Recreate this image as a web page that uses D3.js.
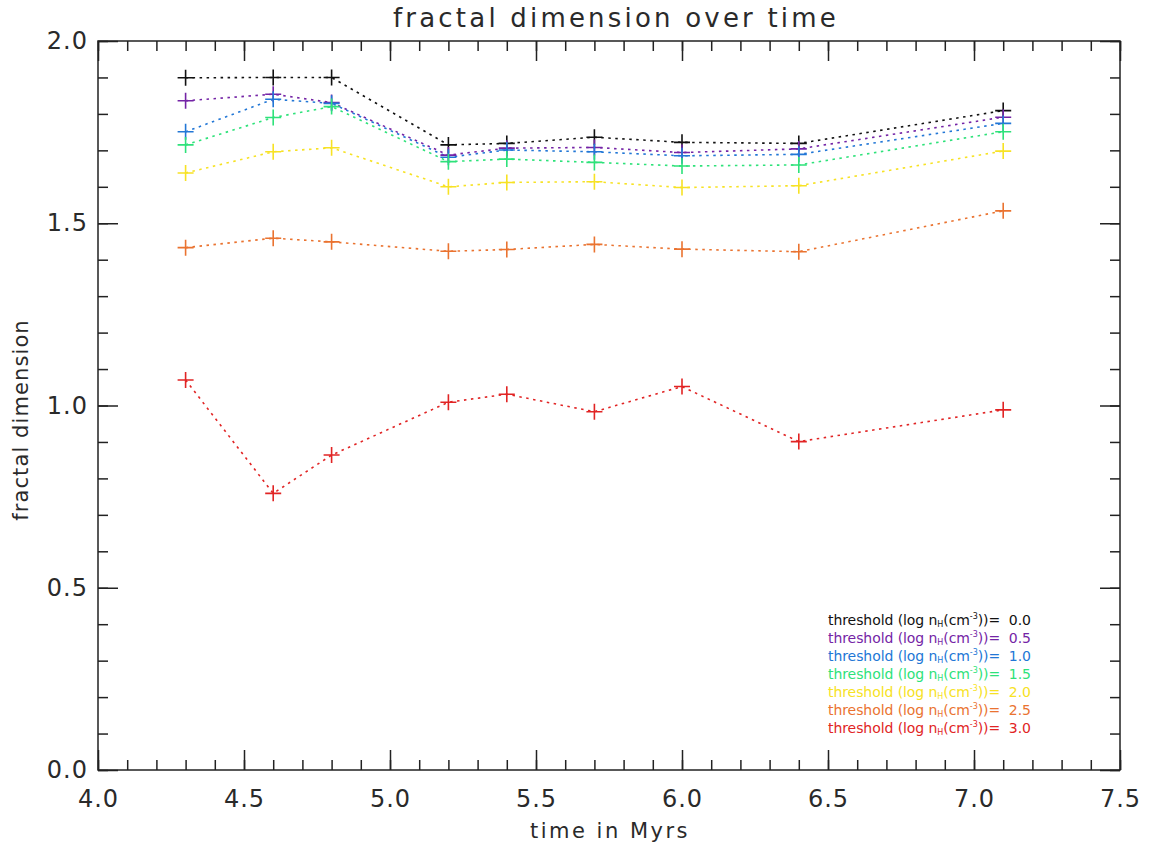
<!DOCTYPE html>
<html lang="en">
<head>
    <meta charset="UTF-8">
    <title>fractal dimension over time</title>
    <script src="https://d3js.org/d3.v7.min.js"></script>
    <style>
        body { margin: 0; background: #fff; }
        text { font-family: "DejaVu Sans", sans-serif; fill: #2a2a2a; white-space: pre; }
    </style>
</head>
<body>
    <svg width="1151" height="846"></svg>
    <script>
        // time in Myrs
        const times = [4.3, 4.6, 4.8, 5.2, 5.4, 5.7, 6.0, 6.4, 7.1];
        // fractal dimension for each density threshold
        const th00 = [1.899, 1.900, 1.900, 1.715, 1.719, 1.736, 1.722, 1.719, 1.809];
        const th05 = [1.836, 1.854, 1.831, 1.687, 1.706, 1.708, 1.694, 1.704, 1.791];
        const th10 = [1.751, 1.840, 1.829, 1.681, 1.701, 1.696, 1.685, 1.689, 1.774];
        const th15 = [1.715, 1.790, 1.820, 1.669, 1.676, 1.667, 1.657, 1.660, 1.751];
        const th20 = [1.638, 1.696, 1.707, 1.600, 1.612, 1.614, 1.598, 1.603, 1.698];
        const th25 = [1.433, 1.459, 1.449, 1.423, 1.428, 1.442, 1.429, 1.422, 1.534];
        const th30 = [1.070, 0.759, 0.864, 1.009, 1.031, 0.983, 1.052, 0.901, 0.988];
        const thresholds = ["0.0", "0.5", "1.0", "1.5", "2.0", "2.5", "3.0"];
        const colors = ["#111111", "#7424a6", "#2277d6", "#2ee27a", "#f7e224", "#ea7330", "#e12424"];
        const xTicks = [4.0, 4.5, 5.0, 5.5, 6.0, 6.5, 7.0, 7.5];
        const yTicks = [0.0, 0.5, 1.0, 1.5, 2.0];

        const series = [th00, th05, th10, th15, th20, th25, th30];

        const width = 1151;
        const height = 846;
        const margin = {top: 41, right: 31, bottom: 76, left: 98};

        const svg = d3.select("svg");

        const x = d3.scaleLinear()
            .domain([4.0, 7.5])
            .range([margin.left, width - margin.right]);
        const y = d3.scaleLinear()
            .domain([0, 2])
            .range([height - margin.bottom, margin.top]);

        const minorX = d3.range(40, 76).map(d => d / 10);
        const minorY = d3.range(0, 21).map(d => d / 10);
        const f1 = d3.format(".1f");

        // ticks on all four sides, pointing inward
        function axes(axisFn, scale, minor, major, tr, labels, pad) {
            svg.append("g")
                .attr("transform", tr)
                .call(axisFn(scale).tickValues(minor).tickSize(-10).tickFormat(""))
                .call(g => g.select(".domain").remove());
            const g = svg.append("g")
                .attr("class", "major")
                .attr("transform", tr)
                .call(axisFn(scale).tickValues(major).tickSize(-20)
                    .tickPadding(pad).tickFormat(labels ? f1 : ""));
            g.select(".domain").remove();
            return g;
        }
        axes(d3.axisBottom, x, minorX, xTicks, `translate(0,${y(0)})`, true, 20);
        axes(d3.axisTop, x, minorX, xTicks, `translate(0,${y(2)})`, false, 0);
        axes(d3.axisLeft, y, minorY, yTicks, `translate(${x(4)},0)`, true, 10);
        axes(d3.axisRight, y, minorY, yTicks, `translate(${x(7.5)},0)`, false, 0);

        svg.selectAll(".tick line").attr("stroke", "#222").attr("stroke-width", 1.5);
        svg.selectAll(".tick text")
            .attr("font-size", 24)
            .attr("letter-spacing", 1)
            .attr("fill", "#333");

        // frame
        svg.append("rect")
            .attr("x", x(4)).attr("y", y(2))
            .attr("width", x(7.5) - x(4))
            .attr("height", y(0) - y(2))
            .attr("fill", "none")
            .attr("stroke", "#222")
            .attr("stroke-width", 1.5);

        // dotted lines
        const line = d3.line()
            .x((d, i) => x(times[i]))
            .y(d => y(d));

        series.forEach((s, k) => {
            svg.append("path")
                .datum(s)
                .attr("fill", "none")
                .attr("stroke", colors[k])
                .attr("stroke-width", 1.6)
                .attr("stroke-dasharray", "2.5,4.5")
                .attr("d", line);
        });

        // plus markers
        series.forEach((s, k) => {
            svg.append("g").selectAll("path")
                .data(s)
                .join("path")
                .attr("transform", (d, i) => `translate(${x(times[i])},${y(d)})`)
                .attr("d", "M-8,0H8M0,-8V8")
                .attr("stroke", colors[k])
                .attr("stroke-width", 1.6);
        });

        // title and axis titles
        svg.append("text")
            .attr("x", 616).attr("y", 27)
            .attr("text-anchor", "middle")
            .attr("font-size", 26)
            .attr("letter-spacing", 3.2)
            .attr("fill", "#333")
            .text("fractal dimension over time");

        svg.append("text")
            .attr("x", 610).attr("y", 838)
            .attr("text-anchor", "middle")
            .attr("font-size", 21)
            .attr("letter-spacing", 2.5)
            .attr("fill", "#333")
            .text("time in Myrs");

        svg.append("text")
            .attr("transform", "translate(28,420) rotate(-90)")
            .attr("text-anchor", "middle")
            .attr("font-size", 21)
            .attr("letter-spacing", 1.1)
            .attr("fill", "#333")
            .text("fractal dimension");

        // legend
        const legend = svg.append("g");
        thresholds.forEach((t, k) => {
            const tx = legend.append("text")
                .attr("x", 828)
                .attr("y", 625 + k * 18)
                .attr("font-size", 14)
                .attr("textLength", 203)
                .attr("lengthAdjust", "spacing")
                .style("fill", colors[k]);
            tx.append("tspan").text("threshold (log n");
            tx.append("tspan").attr("font-size", 8).attr("dy", 2).text("H");
            tx.append("tspan").attr("dy", -2).text("(cm");
            tx.append("tspan").attr("font-size", 8).attr("dy", -6).text("-3");
            tx.append("tspan").attr("dy", 6).text("))=  " + t);
        });
    </script>
</body>
</html>
